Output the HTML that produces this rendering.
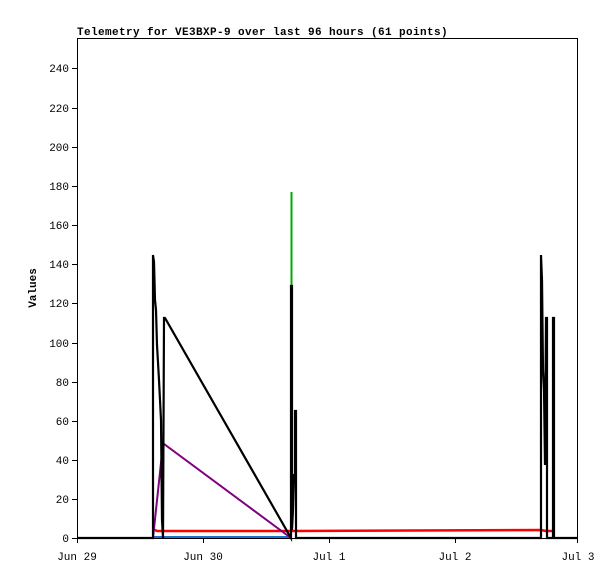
<!DOCTYPE html>
<html><head><style>body{margin:0;background:#fff}svg{display:block}</style></head><body>
<svg width="615" height="579" xmlns="http://www.w3.org/2000/svg" font-family="Liberation Mono, monospace" font-size="11">
<rect x="0" y="0" width="615" height="579" fill="#fff"/>
<text x="77" y="35" font-weight="bold" font-size="11" letter-spacing="0.4">Telemetry for VE3BXP-9 over last 96 hours (61 points)</text>
<rect x="77.5" y="38.5" width="500" height="500" fill="none" stroke="#000"/>
<g stroke="#000">
<line x1="72" y1="538.5" x2="77" y2="538.5"/><line x1="72" y1="499.5" x2="77" y2="499.5"/><line x1="72" y1="460.5" x2="77" y2="460.5"/><line x1="72" y1="421.5" x2="77" y2="421.5"/><line x1="72" y1="382.5" x2="77" y2="382.5"/><line x1="72" y1="343.5" x2="77" y2="343.5"/><line x1="72" y1="303.5" x2="77" y2="303.5"/><line x1="72" y1="264.5" x2="77" y2="264.5"/><line x1="72" y1="225.5" x2="77" y2="225.5"/><line x1="72" y1="186.5" x2="77" y2="186.5"/><line x1="72" y1="147.5" x2="77" y2="147.5"/><line x1="72" y1="108.5" x2="77" y2="108.5"/><line x1="72" y1="68.5" x2="77" y2="68.5"/>
<line x1="77.5" y1="538" x2="77.5" y2="543"/><line x1="203.5" y1="538" x2="203.5" y2="543"/><line x1="329.5" y1="538" x2="329.5" y2="543"/><line x1="455.5" y1="538" x2="455.5" y2="543"/><line x1="577.5" y1="538" x2="577.5" y2="543"/>
</g>
<g text-anchor="end">
<text x="69" y="542">0</text><text x="69" y="503">20</text><text x="69" y="464">40</text><text x="69" y="425">60</text><text x="69" y="386">80</text><text x="69" y="347">100</text><text x="69" y="307">120</text><text x="69" y="268">140</text><text x="69" y="229">160</text><text x="69" y="190">180</text><text x="69" y="151">200</text><text x="69" y="112">220</text><text x="69" y="72">240</text>
</g>
<g text-anchor="middle">
<text x="77" y="560">Jun 29</text><text x="203" y="560">Jun 30</text><text x="329" y="560">Jul 1</text><text x="455" y="560">Jul 2</text><text x="578" y="560">Jul 3</text>
</g>
<text transform="translate(36,288) rotate(-90)" text-anchor="middle" font-weight="bold">Values</text>
<line x1="153" y1="537" x2="291" y2="537" stroke="#1f6fcf" stroke-width="2"/>
<polyline points="153,530 155,530 157,531 291,531 541,530 546,531 553,531" fill="none" stroke="#f00" stroke-width="2.5"/>
<polyline points="153,538 163,444 164,444 291,538" fill="none" stroke="#800080" stroke-width="2"/>
<line x1="291.5" y1="192" x2="291.5" y2="286" stroke="#0a0" stroke-width="2"/>
<polyline points="77,538 153,538 153,255 154,262 155,300 156,310 157,345 159,380 161,420 162,520 163,538 164,318 165,318 291,538 291,286 292,286 292,530 293,510 294,475 295,475 295,411 296,411 296,538 541,538 541,255 542,280 543,370 544,390 545,465 546,318 547,318 547,538 553,538 553,318 554,318 554,538 578,538" fill="none" stroke="#000" stroke-width="2.2" stroke-linejoin="miter"/>
</svg>
</body></html>
